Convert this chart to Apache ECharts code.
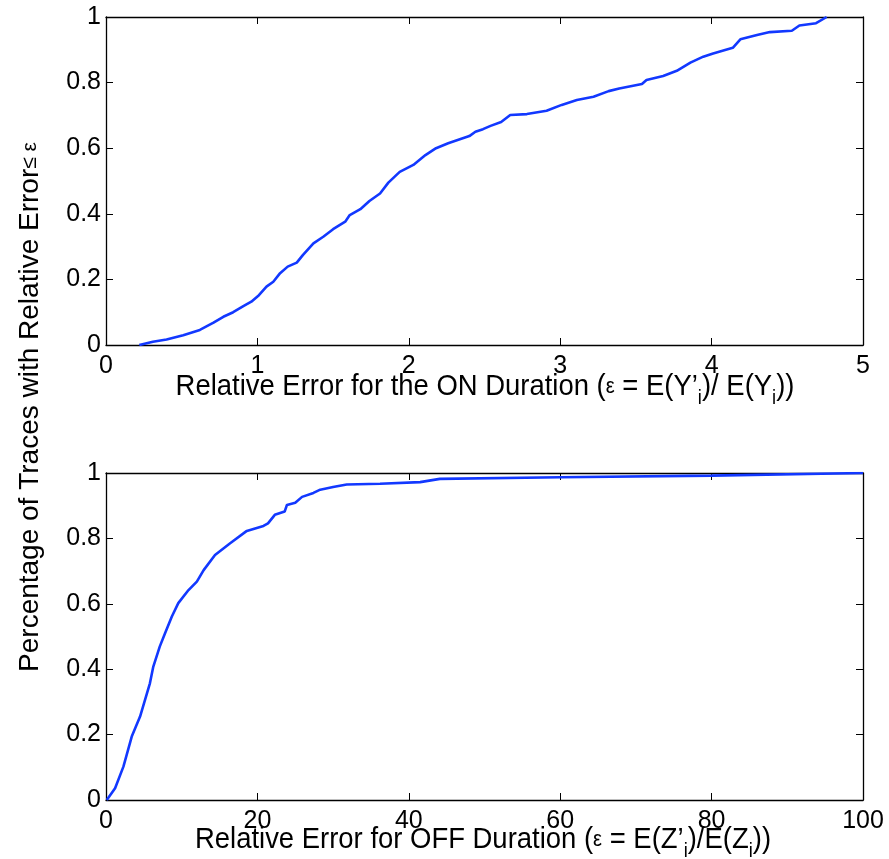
<!DOCTYPE html>
<html>
<head>
<meta charset="UTF-8">
<title>Relative Error CDF</title>
<script src="https://cdn.jsdelivr.net/npm/echarts@6/dist/echarts.min.js"></script>
</head>
<body style="margin:0;background:#fff">
<div id="main" style="width:889px;height:859px;"></div>
<script>
// ON duration: relative error vs cumulative fraction of traces
var onErr = [0.22, 0.31, 0.40, 0.51, 0.62, 0.71, 0.775, 0.84, 0.91, 0.96, 1.01, 1.06, 1.105, 1.15, 1.20, 1.26, 1.30, 1.37, 1.435, 1.50, 1.58, 1.61, 1.68, 1.74, 1.81, 1.865, 1.94, 2.03, 2.11, 2.18, 2.26, 2.40, 2.44, 2.49, 2.54, 2.61, 2.67, 2.78, 2.91, 3.01, 3.11, 3.22, 3.32, 3.39, 3.54, 3.57, 3.68, 3.77, 3.86, 3.945, 4.01, 4.14, 4.19, 4.30, 4.385, 4.53, 4.58, 4.69, 4.76];
var onPct = [0, 0.01, 0.017, 0.03, 0.046, 0.068, 0.086, 0.10, 0.119, 0.132, 0.152, 0.178, 0.193, 0.219, 0.239, 0.251, 0.274, 0.31, 0.33, 0.353, 0.376, 0.396, 0.414, 0.439, 0.462, 0.495, 0.528, 0.549, 0.579, 0.60, 0.615, 0.637, 0.65, 0.658, 0.668, 0.68, 0.701, 0.704, 0.714, 0.732, 0.747, 0.757, 0.774, 0.782, 0.796, 0.808, 0.82, 0.836, 0.861, 0.879, 0.889, 0.906, 0.932, 0.945, 0.954, 0.958, 0.974, 0.981, 1.0];

// OFF duration
var offErr = [0.1, 1.2, 2.3, 3.4, 4.5, 5.8, 6.25, 7.1, 7.8, 8.7, 9.55, 10.9, 12.0, 12.9, 14.4, 16.4, 18.6, 20.8, 21.4, 22.3, 23.6, 23.9, 25.0, 25.9, 27.4, 28.3, 30.0, 31.8, 36.2, 41.5, 44.1, 60, 80, 100];
var offPct = [0, 0.036, 0.102, 0.194, 0.255, 0.357, 0.408, 0.469, 0.51, 0.561, 0.602, 0.642, 0.668, 0.703, 0.749, 0.785, 0.823, 0.838, 0.846, 0.872, 0.882, 0.902, 0.909, 0.927, 0.939, 0.949, 0.957, 0.965, 0.967, 0.972, 0.982, 0.987, 0.992, 1.0];

var yMax = 1, yStep = 0.2;
var onMax = 5, onStep = 1;
var offMax = 100, offStep = 20;

function pairs(xs, ys) {
    return xs.map(function (x, i) { return [x, ys[i]]; });
}

var FONT = '"Liberation Sans", Helvetica, Arial, sans-serif';
var lineColor = '#1238ff';

function xAx(grid, max, step, pos, show) {
    return {
        type: 'value', gridIndex: grid, min: 0, max: max, interval: step, position: pos,
        axisLine: {show: true, onZero: false, lineStyle: {color: '#000', width: 1.3}},
        axisTick: {show: true, inside: true, length: 7, lineStyle: {color: '#000'}},
        axisLabel: {show: show, color: '#000', fontSize: 25, fontFamily: FONT, margin: 9},
        splitLine: {show: false}
    };
}
function yAx(grid, pos, show) {
    return {
        type: 'value', gridIndex: grid, min: 0, max: yMax, interval: yStep, position: pos,
        axisLine: {show: true, onZero: false, lineStyle: {color: '#000', width: 1.3}},
        axisTick: {show: true, inside: true, length: 7, lineStyle: {color: '#000'}},
        axisLabel: {show: show, color: '#000', fontSize: 25, fontFamily: FONT, margin: 5},
        splitLine: {show: false}
    };
}

// narrow-looking titles: regular font squeezed horizontally
var subRich = {
    n: {fontSize: 30, fontFamily: FONT, color: '#000'},
    e: {fontSize: 22, fontFamily: FONT, color: '#000'},
    s: {fontSize: 20, fontFamily: FONT, color: '#000', padding: [22, 0, 0, 0]}
};

var myChart = echarts.init(document.getElementById('main'));
var option = {
    animation: false,
    backgroundColor: '#fff',
    grid: [
        {left: 106, top: 17, width: 757, height: 328},
        {left: 106, top: 473, width: 757, height: 327}
    ],
    xAxis: [
        xAx(0, onMax, onStep, 'bottom', true),
        xAx(0, onMax, onStep, 'top', false),
        xAx(1, offMax, offStep, 'bottom', true),
        xAx(1, offMax, offStep, 'top', false)
    ],
    yAxis: [
        yAx(0, 'left', true),
        yAx(0, 'right', false),
        yAx(1, 'left', true),
        yAx(1, 'right', false)
    ],
    series: [
        {
            type: 'line', xAxisIndex: 0, yAxisIndex: 0, data: pairs(onErr, onPct),
            showSymbol: false, lineStyle: {color: lineColor, width: 2.6}
        },
        {
            type: 'line', xAxisIndex: 2, yAxisIndex: 2, data: pairs(offErr, offPct),
            showSymbol: false, lineStyle: {color: lineColor, width: 2.6}
        }
    ],
    graphic: [
        {
            type: 'text', x: 485, y: 387, scaleX: 0.915,
            style: {
                text: '{n|Relative Error for the ON Duration (}{e|ε}{n| = E(Y’}{s|i}{n|)/ E(Y}{s|i}{n|))}',
                rich: subRich, align: 'center', verticalAlign: 'middle'
            }
        },
        {
            type: 'text', x: 483, y: 840, scaleX: 0.915,
            style: {
                text: '{n|Relative Error for OFF Duration (}{e|ε}{n| = E(Z’}{s|i}{n|)/E(Z}{s|i}{n|))}',
                rich: subRich, align: 'center', verticalAlign: 'middle'
            }
        },
        {
            type: 'text', x: 30, y: 407, rotation: Math.PI / 2,
            style: {
                text: '{a|Percentage of Traces with Relative Error}{b|≤ ε}',
                rich: {
                    a: {fontSize: 28, fontFamily: FONT, color: '#000'},
                    b: {fontSize: 21, fontFamily: FONT, color: '#000'}
                },
                align: 'center', verticalAlign: 'middle'
            }
        }
    ]
};
myChart.setOption(option);
</script>
</body>
</html>
